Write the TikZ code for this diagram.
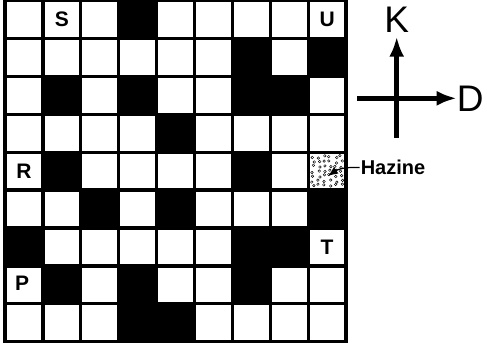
\documentclass[tikz,border=0pt]{standalone}
\usepackage{fontspec}
\setmainfont{Liberation Sans}
\usetikzlibrary{arrows.meta, positioning}

\begin{document}
\begin{tikzpicture}[x=1pt, y=1pt,
  gridline/.style={line width=3.3pt},
  celltext/.style={font=\bfseries\fontsize{21}{21}\selectfont, inner sep=0pt},
  dirtext/.style={font=\fontsize{37}{37}\selectfont, inner sep=0pt},
  compass/.style={line width=4.5pt, -{Latex[length=20pt, width=15pt]}},
  leader/.style={line width=1.2pt, -{Latex[length=10pt, width=8pt]}}
]
\useasboundingbox (0,0) rectangle (487,347);
\begin{scope}[shift={(5,5.3)}, x=37.9pt, y=37.9pt]
  % black cells, column / row counted from the top
  \foreach \c/\r in {4/1, 7/2, 9/2, 2/3, 4/3, 7/3, 8/3, 5/4, 2/5, 7/5,
                     3/6, 5/6, 9/6, 1/7, 7/7, 8/7, 2/8, 4/8, 7/8, 4/9, 5/9}
    \fill ({\c-1},{9-\r}) rectangle ++(1,1);
  % treasure cell
  \pgfmathsetseed{5}
  \foreach \i in {0,...,5}
    \foreach \j in {0,...,6} {
      \pgfmathsetmacro{\hx}{8.13+0.148*\i+0.04*rand}
      \pgfmathsetmacro{\hy}{4.12+0.127*\j+0.04*rand}
      \draw[line width=0.45pt] (\hx,\hy) circle[radius=1.3pt];
    }
  \draw[gridline, step=1] (0,0) grid (9,9);
  \draw[gridline] (0,0) rectangle (9,9);
  \node[celltext] (S) at (1.5,8.5) {S};
  \node[celltext] (U) at (8.5,8.5) {U};
  \node[celltext] (R) at (0.5,4.5) {R};
  \node[celltext] (T) at (8.5,2.5) {T};
  \node[celltext] (P) at (0.45,1.53) {P};
  \coordinate (haztip) at (8.52,4.37);
\end{scope}
\node[celltext, font=\bfseries\fontsize{20}{20}\selectfont, inner sep=1pt,
      anchor=west] (haz) at (359.6,179.5) {Hazine};
\draw[leader] (haz.west) -- ++(-7,0) to[out=180, in=35] (haztip);
% direction cross
\coordinate (ksouth) at (396.7,209);
\coordinate (knorth) at (396.7,310.3);
\coordinate (dwest) at (357,248.7);
\coordinate (deast) at (456.7,248.7);
\draw[compass] (ksouth) -- (knorth);
\draw[compass] (dwest) -- (deast);
\node[dirtext, above=3.5pt of knorth] (K) {K};
\node[dirtext, right=0pt of deast] (D) {D};
\end{tikzpicture}
\end{document}
